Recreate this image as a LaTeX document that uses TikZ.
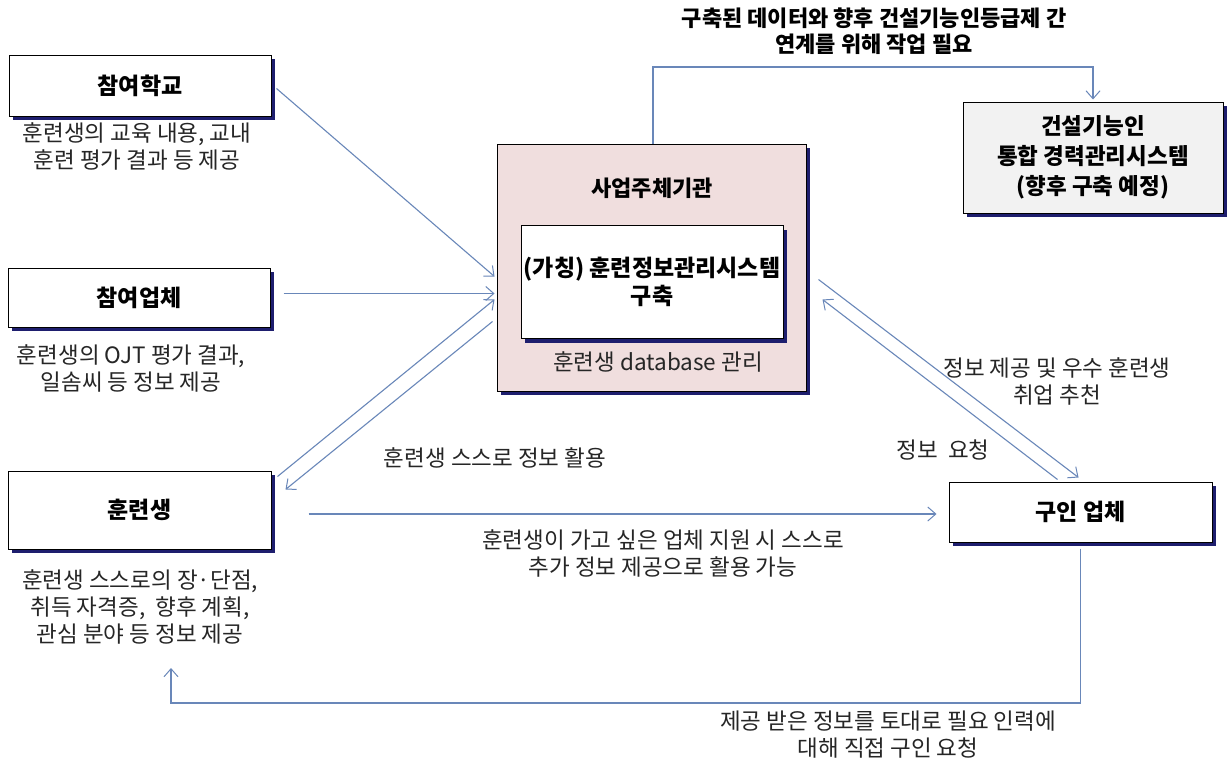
\documentclass[tikz,border=0pt]{standalone}
\usepackage{fontspec}
\setmainfont{Noto Sans CJK KR}
\usetikzlibrary{arrows.meta,calc,shadows}
\definecolor{lnc}{RGB}{105,135,185}
\definecolor{orgfill}{RGB}{240,222,222}
\definecolor{futfill}{RGB}{242,242,242}
\definecolor{shadc}{RGB}{30,30,110}
\tikzset{
  box/.style={draw=black, line width=1pt, fill=white, rectangle, inner sep=0pt,
    align=center, font=\fontsize{23}{30}\selectfont\bfseries,
    drop shadow={shadow xshift=4pt, shadow yshift=-4pt, fill=shadc, opacity=1}},
  desc/.style={align=center, inner sep=0pt, font=\fontsize{22.5}{27}\selectfont, text=black!85},
  conn/.style={draw=lnc, line width=1.1pt, -{Straight Barb[length=8pt,width=14pt,line width=1pt]}},
  plain/.style={draw=lnc, line width=1.1pt}
}
\begin{document}
\begin{tikzpicture}[x=1pt,y=-1pt]
\useasboundingbox (0,0) rectangle (1230,766);
\fill[white] (0,0) rectangle (1230,766);

% boxes
\node[box, minimum width=262pt, minimum height=61pt] (school) at (140,85.5) {참여학교};
\node[box, minimum width=262pt, minimum height=59pt] (company) at (139,297.5) {참여업체};
\node[box, minimum width=263pt, minimum height=78pt] (trainee) at (139.5,510) {훈련생};
\node[box, fill=orgfill, minimum width=309pt, minimum height=247pt] (org) at (651.5,267.5) {};
\node[box, minimum width=262pt, minimum height=113pt, font=\fontsize{23}{28}\selectfont\bfseries] (sys) at (652,282) {(가칭) 훈련정보관리시스템\\구축};
\node[box, fill=futfill, minimum width=260pt, minimum height=111pt, font=\fontsize{22.5}{30}\selectfont\bfseries] (future) at (1093,157.5) {건설기능인\\통합 경력관리시스템\\(향후 구축 예정)};
\node[box, minimum width=263pt, minimum height=60pt] (employer) at (1080.5,512) {구인 업체};

% texts
\node[desc] (tschool) at (137,146.5) {훈련생의 교육 내용, 교내\\훈련 평가 결과 등 제공};
\node[desc] (tcompany) at (131,368.5) {훈련생의 OJT 평가 결과,\\일솜씨 등 정보 제공};
\node[desc] (ttrainee) at (140,606.5) {훈련생 스스로의 장·단점,\\취득 자격증,~ 향후 계획,\\관심 분야 등 정보 제공};
\node[desc, font=\fontsize{22}{27}\selectfont\bfseries, text=black] (torg) at (652,188) {사업주체기관};
\node[desc] (tdb) at (658,362) {훈련생 database 관리};
\node[desc, font=\fontsize{22}{26}\selectfont\bfseries, text=black] (ttop) at (874,31) {구축된 데이터와 향후 건설기능인등급제 간\\연계를 위해 작업 필요};
\node[desc] (tinfo) at (1057,381) {정보 제공 및 우수 훈련생\\취업 추천};
\node[desc] (treq) at (943,450) {정보~ 요청};
\node[desc] (tself) at (495,458) {훈련생 스스로 정보 활용};
\node[desc] (tapply) at (663,553) {훈련생이 가고 싶은 업체 지원 시 스스로\\추가 정보 제공으로 활용 가능};
\node[desc] (tdirect) at (888,735) {제공 받은 정보를 토대로 필요 인력에\\대해 직접 구인 요청};

% connectors
\draw[conn] ($(school.east)+(5,3)$) -- ($(org.north west)+(-2,133)$);
\coordinate (cstart) at ($(company.east)+(13,-4)$);
\draw[conn] (cstart) -- ($(cstart -| org.west)+(-2,0)$);
\draw[conn] ($(trainee.north east)+(6,6)$) -- ($(org.north west)+(-2,156)$);
\draw[conn] ($(org.north west)+(-4,178)$) -- ($(trainee.north east)+(14,19)$);
\coordinate (hstart) at ($(trainee.east)+(37,4)$);
\draw[conn] (hstart) -- ($(hstart -| employer.west)+(-12,0)$);
\draw[conn] ($(org.north east)+(12,136)$) -- ($(employer.north)+(-2,-4)$);
\draw[conn] ($(employer.north)+(-23,-2)$) -- ($(org.north east)+(16,156)$);
\coordinate (topbend) at (653,67);
\draw[conn] ($(org.north)+(1.5,0)$) -- (topbend) -| ($(future.north)+(0,-2)$);
\coordinate (loopL) at (171,703);
\coordinate (loopTip) at (171,668);
\draw[conn] ($(employer.south)+(0,6)$) -- (employer.south |- loopL) -- (loopL) -- (loopTip);
\end{tikzpicture}
\end{document}
